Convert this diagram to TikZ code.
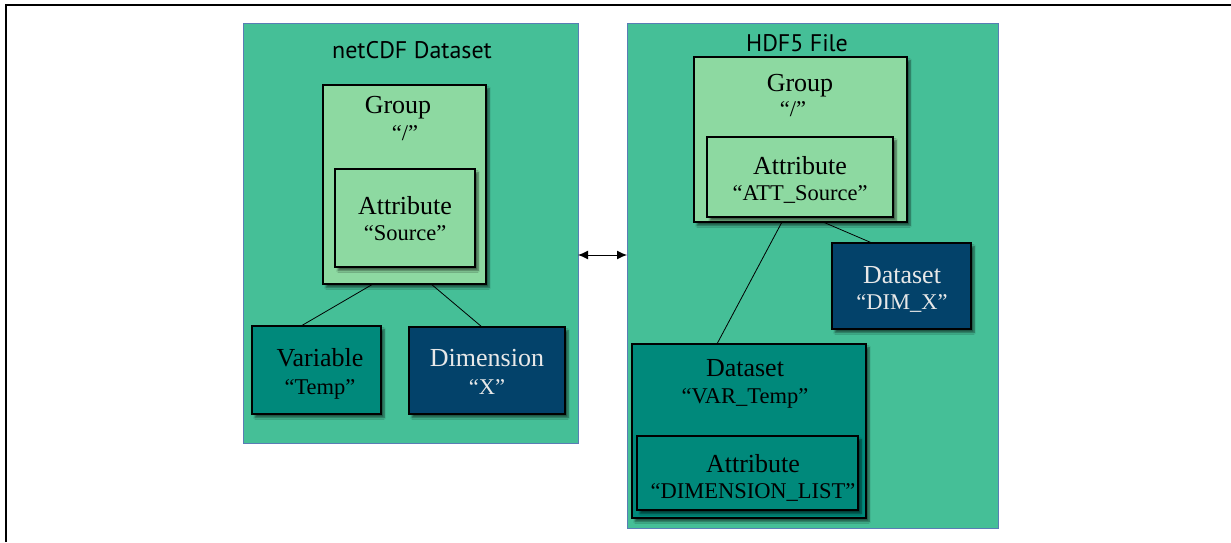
\documentclass[tikz,border=0pt]{standalone}
\usepackage{fontspec}
\setmainfont{Liberation Serif}
\newfontfamily\titlefont{PT Sans}
\usetikzlibrary{calc,arrows.meta,shadows.blur}
\definecolor{contfill}{RGB}{69,191,151}
\definecolor{contdraw}{RGB}{90,125,181}
\definecolor{grpfill}{RGB}{141,217,161}
\definecolor{tealfill}{RGB}{0,137,123}
\definecolor{navyfill}{RGB}{3,66,106}
\definecolor{lighttext}{RGB}{232,232,232}
\tikzset{
  container/.style={draw=contdraw, fill=contfill, line width=1pt, inner sep=0pt, outer sep=0pt},
  box/.style={draw=black, line width=1.6pt, inner sep=0pt, outer sep=0pt,
    blur shadow={shadow xshift=3pt, shadow yshift=-3.5pt, shadow blur steps=6, shadow opacity=55}},
  titletext/.style={font=\titlefont\fontsize{24}{26}\selectfont, anchor=base, inner sep=0pt},
  maintext/.style={font=\fontsize{26}{28}\selectfont, anchor=base, inner sep=0pt},
  subtext/.style={font=\fontsize{22.5}{24}\selectfont, anchor=base, inner sep=0pt},
  link/.style={draw=black, line width=0.8pt},
}
\begin{document}
\begin{tikzpicture}[x=1pt,y=-1pt]
\useasboundingbox (0,0) rectangle (1231,542);
% outer frame
\draw[line width=2pt] (6,542) -- (6,5) -- (1231,5);

% containers
\node[container, minimum width=335pt, minimum height=420pt] (cont1) at (410.5,233) {};
\node[container, minimum width=371pt, minimum height=505pt] (cont2) at (812.5,275.5) {};

% left side boxes
\node[box, fill=grpfill, minimum width=163pt, minimum height=199pt] (g1) at (404.5,184.5) {};
\node[box, fill=grpfill, minimum width=140pt, minimum height=98pt] (a1) at (405,218) {};
\node[box, fill=tealfill, minimum width=129pt, minimum height=88pt] (v1) at (316.5,370) {};
\node[box, fill=navyfill, minimum width=156pt, minimum height=87pt] (d1) at (487,370.5) {};

% right side boxes
\node[box, fill=grpfill, minimum width=213pt, minimum height=165pt] (g2) at (800.5,139.5) {};
\node[box, fill=grpfill, minimum width=186pt, minimum height=80pt] (a2) at (800,177) {};
\node[box, fill=navyfill, minimum width=139pt, minimum height=86pt] (dx) at (901.5,286) {};
\node[box, fill=tealfill, minimum width=234pt, minimum height=174pt] (vt) at (749,431) {};
\node[box, fill=tealfill, minimum width=221pt, minimum height=74pt] (dl) at (747.5,473) {};

% texts left
\node[titletext] (t1) at (412,58) {netCDF Dataset};
\node[maintext] (g1a) at (398,113) {Group};
\node[subtext] (g1b) at (405,140) {“/”};
\node[maintext] (a1a) at (405,214) {Attribute};
\node[subtext] (a1b) at (405,240) {“Source”};
\node[maintext] (v1a) at (320,366) {Variable};
\node[subtext] (v1b) at (320,394) {“Temp”};
\node[maintext, text=lighttext] (d1a) at (487,366) {Dimension};
\node[subtext, text=lighttext] (d1b) at (487,394) {“X”};

% texts right
\node[titletext] (t2) at (797,51) {HDF5 File};
\node[maintext] (g2a) at (800,91) {Group};
\node[subtext] (g2b) at (793,116) {“/”};
\node[maintext] (a2a) at (800,174) {Attribute};
\node[subtext] (a2b) at (800,200) {“ATT\_Source”};
\node[maintext, text=lighttext] (dxa) at (902,283) {Dataset};
\node[subtext, text=lighttext] (dxb) at (902,309) {“DIM\_X”};
\node[maintext] (vta) at (745,376) {Dataset};
\node[subtext] (vtb) at (745,403) {“VAR\_Temp”};
\node[maintext] (dla) at (753,472) {Attribute};
\node[subtext] (dlb) at (753,498) {“DIMENSION\_LIST”};

% connectors
\draw[link] ($(g1.south west)!0.307!(g1.south east)$) -- ($(v1.north west)!0.38!(v1.north east)$);
\draw[link] ($(g1.south west)!0.663!(g1.south east)$) -- ($(d1.north west)!0.468!(d1.north east)$);
\draw[link] ($(g2.south west)!0.413!(g2.south east)$) -- ($(vt.north west)!0.363!(vt.north east)$);
\draw[link] ($(g2.south west)!0.606!(g2.south east)$) -- ($(dx.north west)!0.288!(dx.north east)$);

% double arrow
\coordinate (ay) at (0,255);
\draw[line width=1pt, {Latex[length=10pt,width=9pt]}-{Latex[length=10pt,width=9pt]}] (cont1.east |- ay) -- (cont2.west |- ay);
\end{tikzpicture}
\end{document}
